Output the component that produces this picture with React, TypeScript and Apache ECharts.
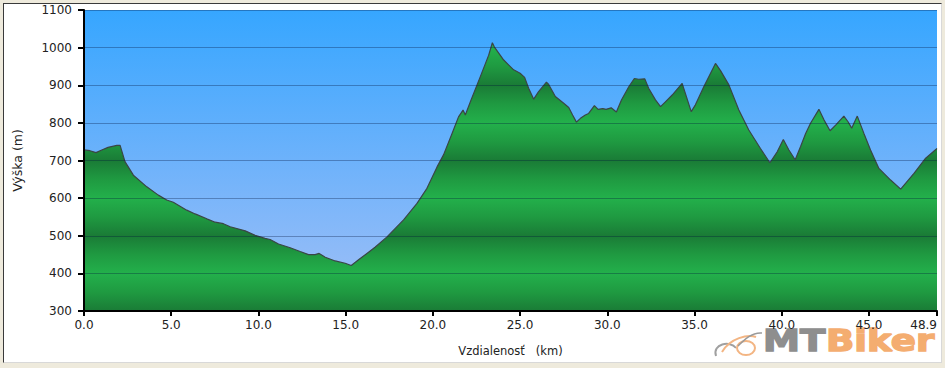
import React, { useEffect, useRef } from "react";
import * as echarts from "echarts";

const distanceKm: number[] = [
  0.0, 0.34, 0.69, 1.02, 1.38, 1.88, 2.07, 2.35, 2.83, 3.6, 4.26, 4.74, 5.12, 5.89, 6.37, 7.04, 7.52, 7.99,
  8.38, 9.24, 9.81, 10.38, 10.67, 11.15, 11.82, 12.39, 12.87, 13.25, 13.48, 13.83, 14.4, 14.97, 15.32, 15.74,
  16.22, 16.7, 17.37, 18.32, 19.09, 19.66, 20.24, 20.61, 21.1, 21.47, 21.73, 21.86, 22.15, 22.72, 23.2, 23.41,
  23.52, 24.06, 24.63, 25.0, 25.26, 25.49, 25.78, 26.06, 26.51, 26.64, 27.02, 27.5, 27.79, 28.01, 28.23, 28.46,
  28.74, 28.93, 29.26, 29.47, 29.74, 29.93, 30.22, 30.52, 30.81, 31.23, 31.55, 31.8, 32.15, 32.37, 32.76, 33.05,
  33.33, 33.72, 34.29, 34.81, 35.05, 35.53, 36.2, 36.49, 36.97, 37.54, 38.11, 38.78, 39.32, 39.74, 40.09, 40.41,
  40.77, 41.08, 41.37, 41.65, 42.13, 42.42, 42.77, 43.09, 43.56, 43.8, 44.01, 44.33, 44.71, 45.09, 45.57, 46.24,
  46.82, 47.58, 48.25, 48.9,
];

const elevationM: number[] = [
  728, 726, 721, 728, 735, 740, 740, 697, 661, 630, 608, 595, 589, 568, 558, 545, 536, 532,
  524, 513, 501, 493, 490, 478, 468, 458, 450, 450, 453, 443, 433, 427, 421, 436,
  453, 470, 497, 542, 586, 626, 683, 715, 772, 816, 834, 821, 856, 923, 980, 1013,
  1002, 967, 941, 932, 921, 892, 863, 883, 908, 902, 870, 852, 841, 821, 802, 812,
  821, 825, 846, 836, 838, 836, 840, 829, 861, 896, 918, 916, 917, 892, 861, 843,
  856, 874, 905, 830, 848, 896, 958, 939, 901, 834, 781, 732, 694, 723, 756, 728,
  702, 737, 772, 799, 836, 808, 779, 794, 818, 803, 786, 818, 772, 728, 679, 648,
  624, 666, 706, 732,
];

const yMin = 300;
const yMax = 1100;
const yStep = 100;
const xMax = 48.9;
const xStep = 5;

const xTitle = "Vzdialenosť   (km)";
const yTitle = "Výška (m)";

const W = 945;
const H = 368;
const GRID = { left: 84, right: 8, top: 10, bottom: 57 };

export default function App() {
  const ref = useRef<HTMLDivElement>(null);

  useEffect(() => {
    if (!ref.current) return;
    const chart = echarts.init(ref.current, null, { renderer: "svg", width: W, height: H });

    const plotTop = GRID.top;
    const plotBottom = H - GRID.bottom;
    const plotLeft = GRID.left;
    const plotRight = W - GRID.right;

    const bright = "#23b04b";
    const mid = "#1f9a41";
    const dark = "#1a7b36";
    const stops: { offset: number; color: string }[] = [];
    for (let v = yMax; v >= yMin; v -= yStep) {
      const off = (yMax - v) / (yMax - yMin);
      const isBright = (v / 100) % 2 === 0;
      stops.push({ offset: off, color: isBright ? bright : dark });
      if (v > yMin) {
        const midOff = (yMax - v + yStep / 2) / (yMax - yMin);
        stops.push({ offset: midOff, color: mid });
      }
    }
    const greenFill = new echarts.graphic.LinearGradient(0, plotTop, 0, plotBottom, stops, true);

    const data = distanceKm.map((d, i) => [d, elevationM[i]]);

    const logoFont = "bold 30px 'DejaVu Sans'";

    chart.setOption({
      animation: false,
      grid: {
        left: GRID.left,
        right: GRID.right,
        top: GRID.top,
        bottom: GRID.bottom,
        containLabel: false,
        outerBoundsMode: "none",
      },
      graphic: [
        {
          type: "rect",
          z: 0,
          silent: true,
          shape: { x: plotLeft, y: plotTop, width: plotRight - plotLeft, height: plotBottom - plotTop },
          style: {
            fill: new echarts.graphic.LinearGradient(0, 0, 0, 1, [
              { offset: 0, color: "#36a6ff" },
              { offset: 0.5, color: "#6db2fb" },
              { offset: 1, color: "#a3c0f6" },
            ]),
          },
        },
        {
          type: "group",
          z: 10,
          silent: true,
          children: [
            {
              type: "bezierCurve",
              shape: { x1: 716, y1: 356, cpx1: 712, cpy1: 344, cpx2: 730, cpy2: 340, x2: 736, y2: 348 },
              style: { stroke: "#a0a0a0", lineWidth: 2, fill: null },
            },
            {
              type: "bezierCurve",
              shape: { x1: 722, y1: 352, cpx1: 730, cpy1: 338, cpx2: 748, cpy2: 334, x2: 756, y2: 337 },
              style: { stroke: "#f3b583", lineWidth: 2, fill: null },
            },
            {
              type: "ellipse",
              shape: { cx: 746, cy: 348, rx: 9, ry: 7 },
              style: { stroke: "#f3b583", lineWidth: 2, fill: null },
            },
            {
              type: "bezierCurve",
              shape: { x1: 738, y1: 346, cpx1: 744, cpy1: 340, cpx2: 752, cpy2: 332, x2: 762, y2: 333 },
              style: { stroke: "#9a9a9a", lineWidth: 1.5, fill: null },
            },
            {
              type: "text",
              x: 763,
              y: 356,
              scaleX: 1.24,
              style: {
                text: "MT",
                fill: "#8e8e8e",
                stroke: "#8e8e8e",
                lineWidth: 1.4,
                font: logoFont,
                textAlign: "left",
                textVerticalAlign: "bottom",
              },
            },
            {
              type: "text",
              x: 826,
              y: 356,
              scaleX: 1.24,
              style: {
                text: "Biker",
                fill: "#f4ad70",
                stroke: "#f4ad70",
                lineWidth: 1.4,
                font: logoFont,
                textAlign: "left",
                textVerticalAlign: "bottom",
              },
            },
          ],
        },
      ],
      xAxis: {
        type: "value",
        min: 0,
        max: xMax,
        interval: xStep,
        z: 5,
        name: xTitle,
        nameLocation: "middle",
        nameGap: 34,
        nameTextStyle: { fontFamily: "DejaVu Sans", fontSize: 11.5, color: "#222" },
        axisLine: { show: true, onZero: false, lineStyle: { color: "#000", width: 2 } },
        axisTick: { show: true, inside: false, length: 5, lineStyle: { color: "#000", width: 2 } },
        axisLabel: {
          fontFamily: "DejaVu Sans",
          fontSize: 12,
          color: "#222",
          margin: 8,
          showMaxLabel: true,
          alignMaxLabel: "right",
          formatter: (v: number) => v.toFixed(1),
        },
        splitLine: { show: false },
      },
      yAxis: {
        type: "value",
        min: yMin,
        max: yMax,
        interval: yStep,
        z: 5,
        name: yTitle,
        nameLocation: "middle",
        nameGap: 60,
        nameRotate: 90,
        nameTextStyle: { fontFamily: "DejaVu Sans", fontSize: 12.5, color: "#222" },
        axisLine: { show: true, lineStyle: { color: "#000", width: 2 } },
        axisTick: { show: true, inside: false, length: 6, lineStyle: { color: "#000", width: 2 } },
        axisLabel: {
          fontFamily: "DejaVu Sans",
          fontSize: 12,
          color: "#222",
          margin: 12,
          formatter: (v: number) => String(v),
        },
        splitLine: { show: true, lineStyle: { color: "rgba(0,20,60,0.32)", width: 1 } },
      },
      series: [
        {
          type: "line",
          data,
          z: 2,
          symbol: "none",
          smooth: false,
          lineStyle: { color: "#3a4646", width: 1.2 },
          areaStyle: { color: greenFill, opacity: 1, origin: "start" },
        },
      ],
    });

    return () => chart.dispose();
  }, []);

  return (
    <div style={{ position: "absolute", left: 0, top: 0, width: W, height: H, background: "#eeeadc" }}>
      <div
        style={{
          position: "absolute",
          left: 3,
          top: 3,
          width: 937,
          height: 358,
          background: "#ffffff",
          borderLeft: "1px solid #3a3a3a",
          borderTop: "1px solid #3a3a3a",
          borderRight: "1px solid #d8d8d8",
          borderBottom: "1px solid #d8d8d8",
        }}
      />
      <div ref={ref} style={{ position: "absolute", left: 0, top: 0, width: W, height: H }} />
    </div>
  );
}
